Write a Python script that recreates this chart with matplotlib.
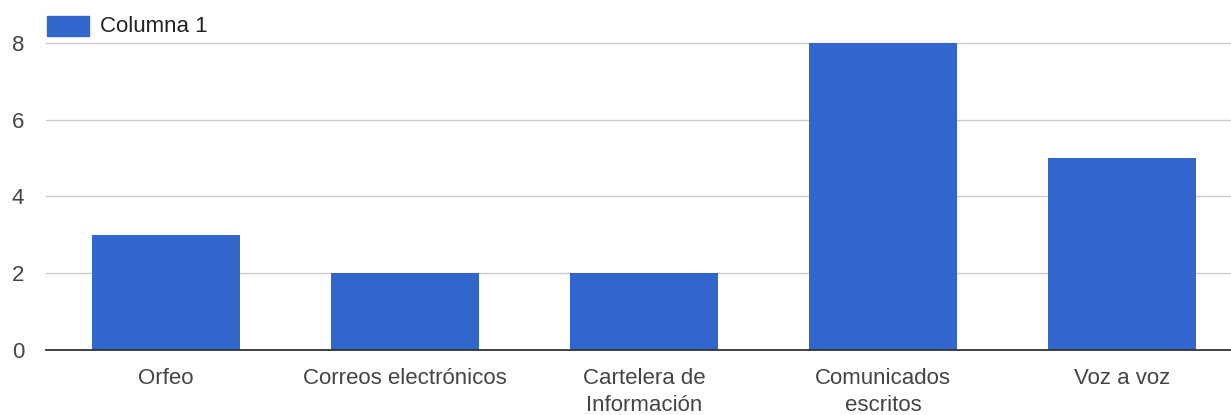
import matplotlib
matplotlib.use("Agg")
import matplotlib.pyplot as plt
from matplotlib.patches import Rectangle

categories = ["Orfeo", "Correos electrónicos", "Cartelera de\nInformación",
              "Comunicados\nescritos", "Voz a voz"]
values = [3, 2, 2, 8, 5]
series_name = "Columna 1"
y_ticks = [0, 2, 4, 6, 8]

bar_color = "#3366CC"
text_color = "#444444"
font_size = 16

plt.rcParams["font.family"] = ["Liberation Sans", "DejaVu Sans"]

fig = plt.figure(figsize=(12.31, 4.15), dpi=100)
ax = fig.add_axes([46 / 1231, 65 / 415, 1 - 46 / 1231, (350 - 42) / 415])

x = list(range(len(categories)))
ax.bar(x, values, width=0.62, color=bar_color, zorder=3)

ax.set_xlim(-0.502, 4.456)
ax.set_ylim(0, 8.02)
ax.set_yticks(y_ticks)
ax.set_yticklabels([str(v) for v in y_ticks])
ax.set_xticks(x)
ax.set_xticklabels(categories, linespacing=1.4)

for s in ["top", "right", "left"]:
    ax.spines[s].set_visible(False)
ax.spines["bottom"].set_color("#333333")
ax.spines["bottom"].set_linewidth(1.3)
ax.spines["bottom"].set_zorder(4)

ax.grid(axis="y", color="#cccccc", linewidth=1.0, zorder=0)
ax.tick_params(axis="both", length=0, labelsize=font_size, labelcolor=text_color)
ax.tick_params(axis="x", pad=13)
ax.tick_params(axis="y", pad=24.5)
for lbl in ax.get_yticklabels():
    lbl.set_horizontalalignment("left")

# legend swatch and label above the plot
fig.patches.append(Rectangle((47 / 1231, 1 - 36 / 415), 42 / 1231, 20 / 415,
                             transform=fig.transFigure, color=bar_color))
fig.text(100 / 1231, 1 - 26 / 415, series_name, fontsize=font_size,
         color="#222222", va="center", ha="left")

fig.savefig("out.png", dpi=100)
